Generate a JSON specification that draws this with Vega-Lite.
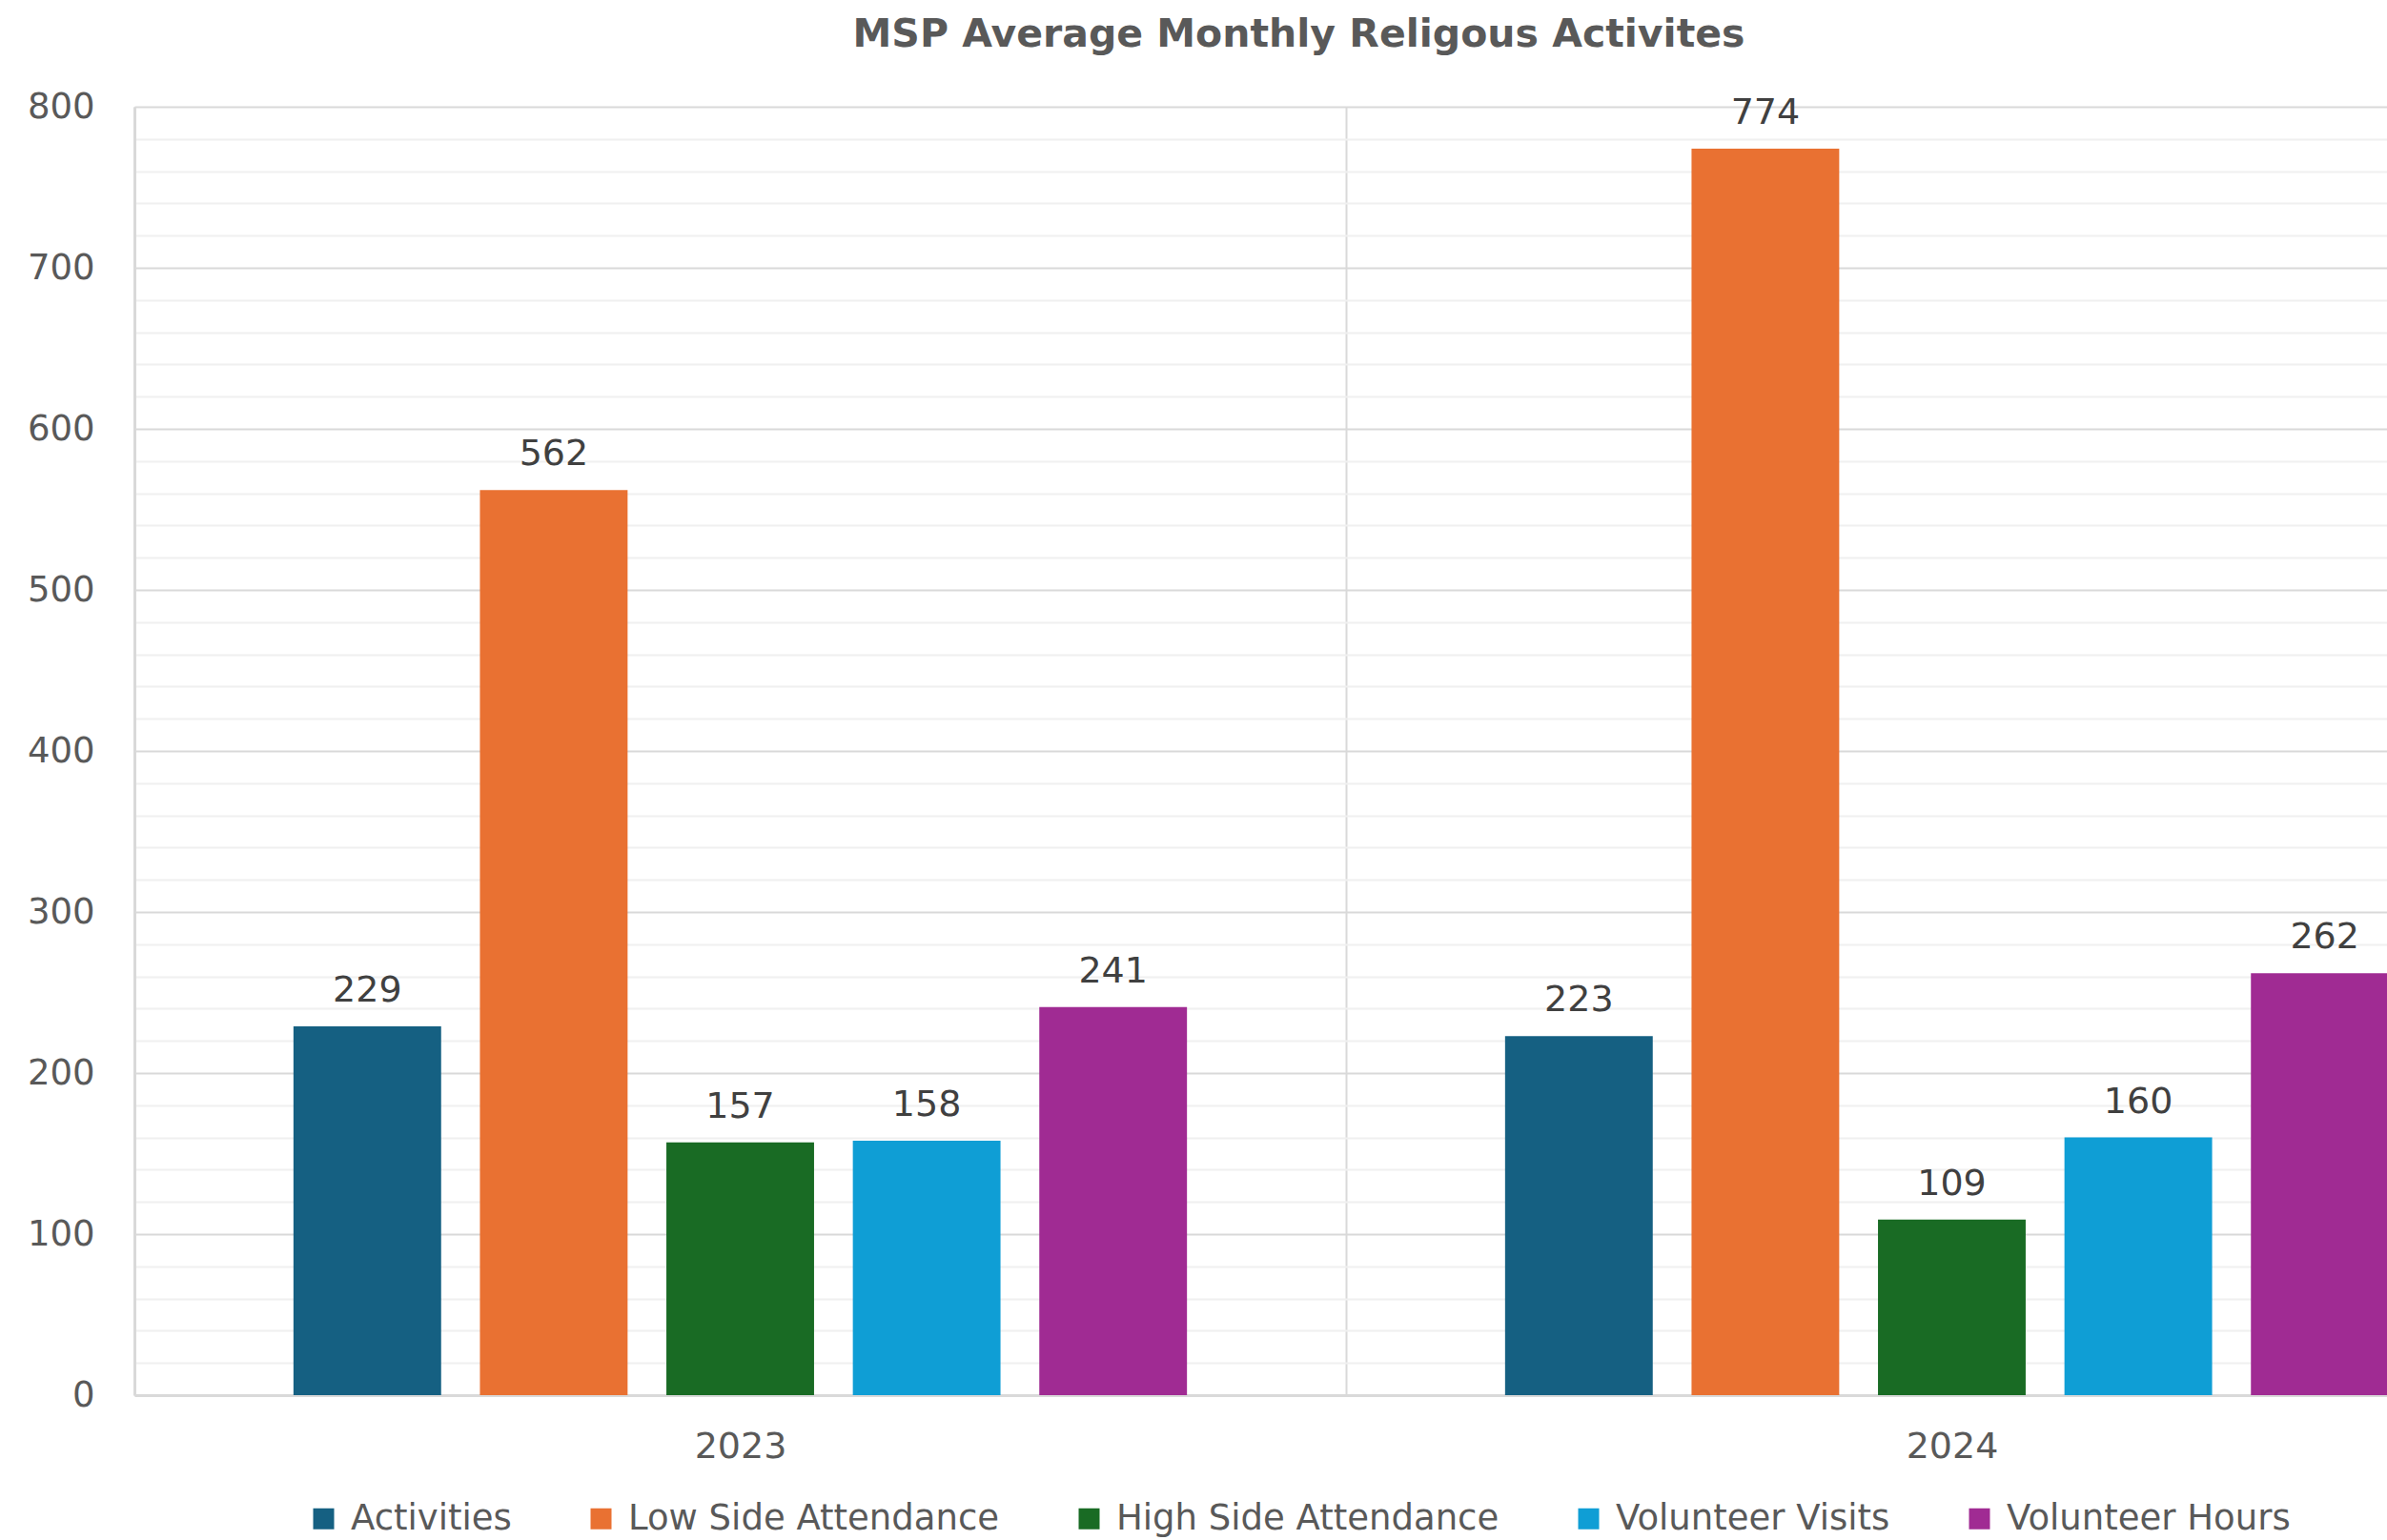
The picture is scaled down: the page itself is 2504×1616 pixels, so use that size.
{
  "$schema": "https://vega.github.io/schema/vega-lite/v6.json",
  "autosize": "none",
  "width": 2363,
  "height": 1352,
  "padding": {"left": 141, "top": 112, "right": 0, "bottom": 152},
  "background": "white",
  "title": {
    "text": "MSP Average Monthly Religous Activites",
    "font": "DejaVu Sans",
    "fontSize": 41,
    "fontWeight": "bold",
    "color": "#595959",
    "anchor": "middle",
    "frame": "group",
    "dx": 40,
    "offset": 35
  },
  "data": {
    "values": [
      {"year": "2023", "series": "Activities", "value": 229},
      {"year": "2023", "series": "Low Side Attendance", "value": 562},
      {"year": "2023", "series": "High Side Attendance", "value": 157},
      {"year": "2023", "series": "Volunteer Visits", "value": 158},
      {"year": "2023", "series": "Volunteer Hours", "value": 241},
      {"year": "2024", "series": "Activities", "value": 223},
      {"year": "2024", "series": "Low Side Attendance", "value": 774},
      {"year": "2024", "series": "High Side Attendance", "value": 109},
      {"year": "2024", "series": "Volunteer Visits", "value": 160},
      {"year": "2024", "series": "Volunteer Hours", "value": 262}
    ]
  },
  "encoding": {
    "x": {
      "field": "year",
      "type": "nominal",
      "scale": {"range": [0, 2542], "paddingInner": 0, "paddingOuter": 0},
      "axis": {
        "title": null,
        "labelAngle": 0,
        "labelFont": "DejaVu Sans",
        "labelFontSize": 38,
        "labelColor": "#595959",
        "labelPadding": 35,
        "ticks": false,
        "domainColor": "#d9d9d9",
        "domainWidth": 3,
        "grid": true,
        "tickBand": "extent",
        "gridColor": "#d9d9d9",
        "gridWidth": 2
      }
    },
    "xOffset": {
      "field": "series",
      "type": "nominal",
      "sort": ["Activities", "Low Side Attendance", "High Side Attendance", "Volunteer Visits", "Volunteer Hours"],
      "scale": {"paddingInner": 0.208, "paddingOuter": 0.853}
    },
    "y": {
      "field": "value",
      "type": "quantitative",
      "scale": {"domain": [0, 800], "nice": false},
      "axis": {
        "title": null,
        "values": [0,20,40,60,80,100,120,140,160,180,200,220,240,260,280,300,320,340,360,380,400,420,440,460,480,500,520,540,560,580,600,620,640,660,680,700,720,740,760,780,800],
        "labelExpr": "datum.value % 100 === 0 ? datum.label : ''",
        "labelFont": "DejaVu Sans",
        "labelFontSize": 37,
        "labelColor": "#595959",
        "labelPadding": 42,
        "ticks": false,
        "domainColor": "#d9d9d9",
        "domainWidth": 3,
        "gridColor": {"condition": {"test": "datum.value % 100 === 0", "value": "#d9d9d9"}, "value": "#f0f0f0"},
        "gridWidth": 2
      }
    }
  },
  "layer": [
    {
      "mark": {"type": "bar", "clip": true},
      "encoding": {
        "color": {
          "field": "series",
          "type": "nominal",
          "scale": {
            "domain": ["Activities", "Low Side Attendance", "High Side Attendance", "Volunteer Visits", "Volunteer Hours"],
            "range": ["#156082", "#E97132", "#196B24", "#0F9ED5", "#A02B93"]
          },
          "legend": {
            "title": null,
            "orient": "none",
            "legendX": 180,
            "legendY": 1463,
            "direction": "horizontal",
            "symbolType": "square",
            "symbolSize": 484,
            "symbolStrokeWidth": 0,
            "labelFont": "DejaVu Sans",
            "labelFontSize": 37,
            "labelColor": "#595959",
            "labelOffset": 10,
            "labelLimit": 1000,
            "columnPadding": 75
          }
        }
      }
    },
    {
      "mark": {"type": "text", "font": "DejaVu Sans", "fontSize": 38, "fill": "#404040", "baseline": "alphabetic", "dy": -26},
      "encoding": {"text": {"field": "value", "type": "quantitative"}}
    }
  ],
  "config": {"view": {"stroke": null}}
}
